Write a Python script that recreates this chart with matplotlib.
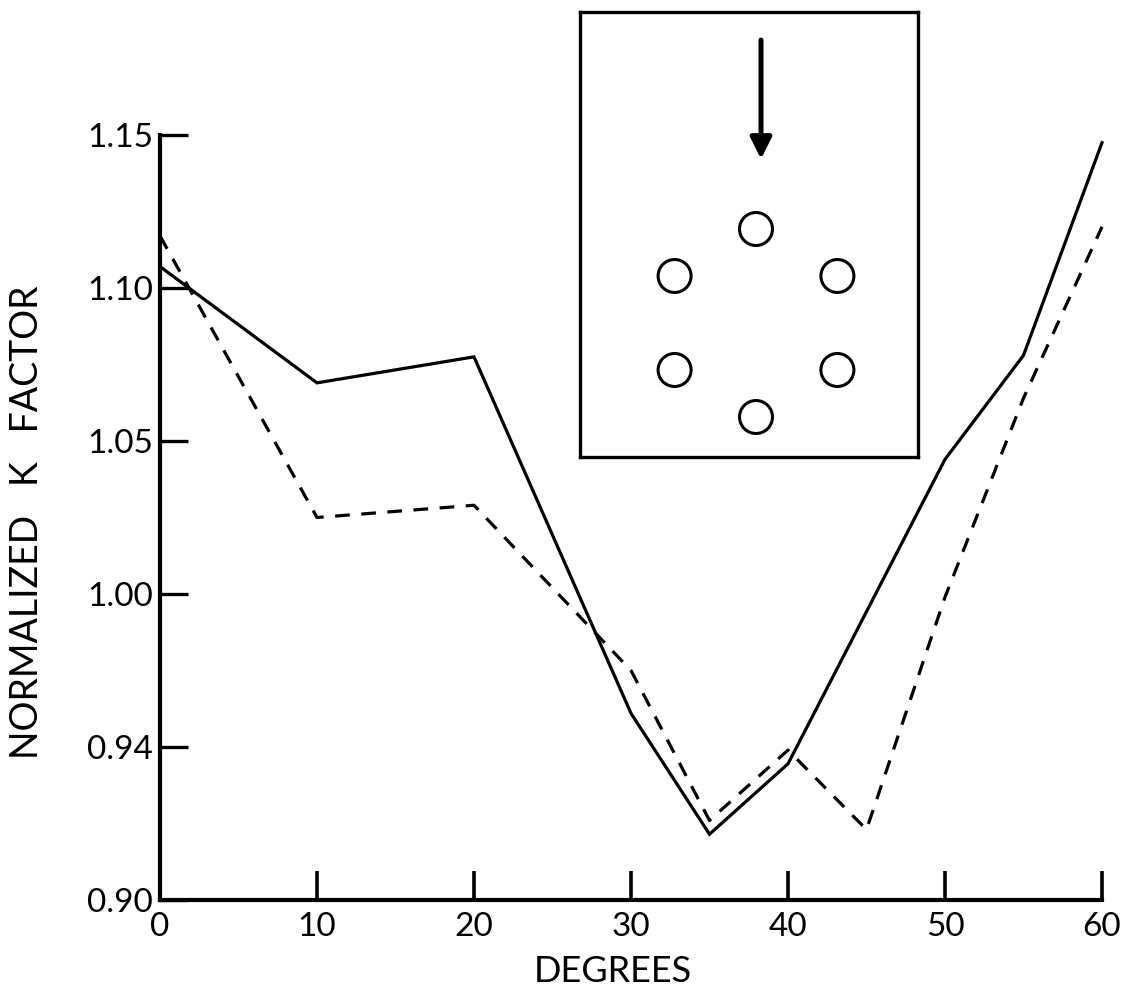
import matplotlib
matplotlib.use("Agg")
import numpy as np
import matplotlib.pyplot as plt
from matplotlib.patches import Circle

# normalized K factor vs. angle
deg_solid = [0, 10, 20, 30, 35, 40, 50, 55, 60]
k_solid = [1.107, 1.069, 1.0775, 0.961, 0.9215, 0.9445, 1.044, 1.078, 1.1475]

deg_dashed = [0, 10, 20, 30, 35, 40, 45, 50, 55, 60]
k_dashed = [1.117, 1.025, 1.029, 0.975, 0.926, 0.949, 0.923, 0.999, 1.064, 1.120]

x_ticks = [0, 10, 20, 30, 40, 50, 60]
y_ticks = [0.90, 0.95, 1.00, 1.05, 1.10, 1.15]
y_tick_labels = ['0.90', '0.94', '1.00', '1.05', '1.10', '1.15']

# hole pattern for the sketch (angles around the centre, degrees)
hole_angles = [90, 150, 210, 270, 330, 30]

plt.rcParams['font.family'] = ['Lato', 'DejaVu Sans']

W, H = 1125, 1007
fig = plt.figure(figsize=(W / 100, H / 100), dpi=100)
ax = fig.add_axes([160 / W, (H - 900) / H, 942 / W, 765 / H])

ax.plot(deg_solid, k_solid, color='black', lw=2.3, clip_on=False,
        solid_joinstyle='miter')
ax.plot(deg_dashed, k_dashed, color='black', lw=2.3, dashes=(4.6, 3.6),
        clip_on=False)

ax.set_xlim(0, 60)
ax.set_ylim(0.90, 1.15)
ax.spines['top'].set_visible(False)
ax.spines['right'].set_visible(False)
ax.spines['left'].set_linewidth(3.0)
ax.spines['bottom'].set_linewidth(3.0)

ax.set_xticks(x_ticks)
ax.set_xticklabels([str(v) for v in x_ticks])
ax.set_yticks(y_ticks)
ax.set_yticklabels(y_tick_labels)
ax.tick_params(axis='x', direction='in', length=21, width=2.6, pad=9,
               labelsize=24)
ax.tick_params(axis='y', direction='in', length=20, width=2.4, pad=5,
               labelsize=24)

fig.text(27 / W, 1 - 522 / H, 'NORMALIZED   K   FACTOR', rotation=90,
         ha='center', va='center', fontsize=27)
fig.text(613 / W, 1 - 972 / H, 'DEGREES', ha='center', va='center',
         fontsize=26)

# inset sketch: plate with six holes and load arrow
bx0, by0, bx1, by1 = 580, 12, 918, 457
ins = fig.add_axes([bx0 / W, (H - by1) / H, (bx1 - bx0) / W, (by1 - by0) / H])
ins.set_xlim(0, bx1 - bx0)
ins.set_ylim(by1 - by0, 0)
ins.set_xticks([])
ins.set_yticks([])
for s in ins.spines.values():
    s.set_linewidth(2.4)

cx, cy, r = 176, 311, 94
for a in hole_angles:
    hx = cx + r * np.cos(np.radians(a))
    hy = cy - r * np.sin(np.radians(a))
    ins.add_patch(Circle((hx, hy), 16.5, fill=False, lw=2.2, ec='black'))

ins.annotate('', xy=(181, 147), xytext=(181, 28),
             arrowprops=dict(arrowstyle='-|>', lw=3.6, color='black',
                             mutation_scale=32, shrinkA=0, shrinkB=0))

fig.savefig('out.png', dpi=100)
